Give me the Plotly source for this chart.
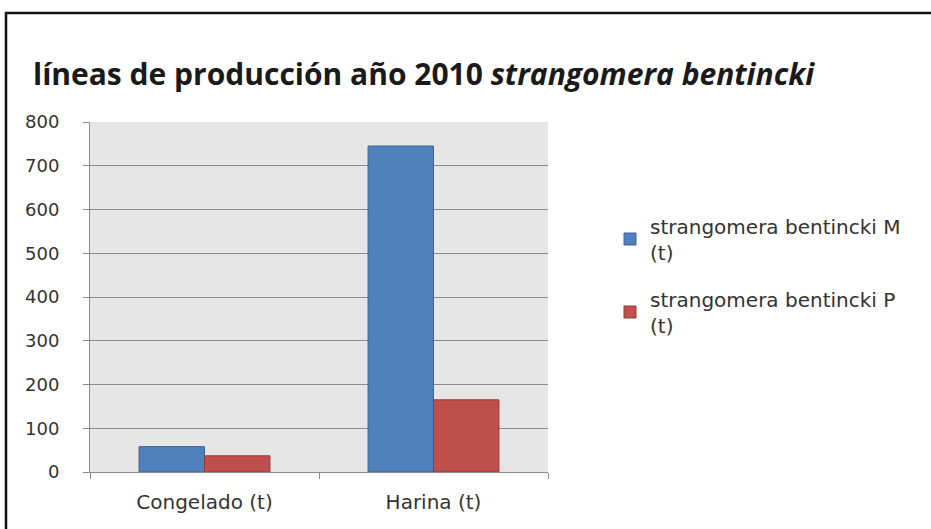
import plotly.graph_objects as go

categories = ["Congelado (t)", "Harina (t)"]
series_m = [58, 745]
series_p = [37, 165]
name_m = "strangomera bentincki M<br>(t)"
name_p = "strangomera bentincki P<br>(t)"
y_ticks = [0, 100, 200, 300, 400, 500, 600, 700, 800]

W, H = 931, 529
L, R, T, B = 90, 383, 122, 57
pw, ph = W - L - R, H - T - B

def px(x):
    return (x - L) / pw

def py(y):
    return (H - B - y) / ph

fig = go.Figure()
fig.add_bar(x=categories, y=series_m, name=name_m, legend="legend",
            marker=dict(color="#4f81bd", line=dict(color="#3a6496", width=1)))
fig.add_bar(x=categories, y=series_p, name=name_p, legend="legend2",
            marker=dict(color="#c0504d", line=dict(color="#8f3b39", width=1)))

title_font = "'Open Sans', sans-serif"
body_font = "'DejaVu Sans', sans-serif"
txt = "#333333"
axis_grey = "#8c8c8c"

legend_common = dict(xanchor="left", yanchor="middle",
                     font=dict(family=body_font, size=20, color=txt),
                     bgcolor="rgba(0,0,0,0)", itemwidth=30)

fig.update_layout(
    width=W, height=H,
    margin=dict(l=L, r=R, t=T, b=B),
    paper_bgcolor="white",
    plot_bgcolor="#e6e6e6",
    barmode="group",
    bargap=0.4286,
    bargroupgap=0,
    font=dict(family=body_font, size=18, color=txt),
    showlegend=True,
    legend=dict(x=px(610), y=py(239), **legend_common),
    legend2=dict(x=px(610), y=py(312), **legend_common),
    xaxis=dict(type="category", showgrid=False, tickson="boundaries",
               ticks="outside", ticklen=6, tickcolor=axis_grey,
               showline=True, linecolor=axis_grey, linewidth=1,
               tickfont=dict(family=body_font, size=20, color=txt),
               ticklabelstandoff=12),
    yaxis=dict(range=[0, 800], tickvals=y_ticks, showgrid=True,
               gridcolor=axis_grey, gridwidth=1, zeroline=False,
               ticks="outside", ticklen=6, tickcolor=axis_grey,
               showline=True, linecolor=axis_grey, linewidth=1,
               tickfont=dict(family=body_font, size=18, color=txt),
               ticklabelstandoff=20),
    annotations=[dict(
        text="<b>líneas de producción año 2010 <i>strangomera bentincki</i></b>",
        xref="paper", yref="paper", x=px(31), y=py(74),
        xanchor="left", yanchor="middle", showarrow=False,
        font=dict(family=title_font, size=30, color="#1a1a1a"))],
    shapes=[dict(type="rect", xref="paper", yref="paper",
                 x0=px(6), x1=px(940), y0=py(540), y1=py(13),
                 line=dict(color="#111111", width=2.5), fillcolor="rgba(0,0,0,0)",
                 layer="below")],
)

fig.write_html("out.html")
